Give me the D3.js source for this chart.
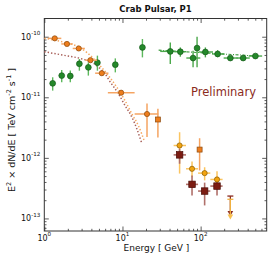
<!DOCTYPE html>
<html>
<head>
<meta charset="utf-8">
<script src="https://cdn.jsdelivr.net/npm/d3@7"></script>
<style>
  body {margin: 0; background: #fff;}
  text {font-family: "DejaVu Sans", sans-serif; fill: #111;}
</style>
</head>
<body>
<svg width="277" height="265"></svg>
<script>
// --- P1 low energy (orange circles)
var fermiE   = [1.36, 1.95, 2.76, 3.89, 5.44, 9.62, 20.6];
var fermiElo = [1.11, 1.65, 2.31, 3.35, 4.47, 6.5, 14.3];
var fermiEhi = [1.65, 2.31, 3.30, 4.74, 6.62, 14.3, 28.7];
var fermiF   = [9.4e-11, 7.6e-11, 6.4e-11, 4.1e-11, 2.5e-11, 1.19e-11, 5.3e-12];
var fermiFlo = [8.8e-11, 7.1e-11, 6.0e-11, 3.8e-11, 2.3e-11, 1.1e-11, 2.2e-12];
var fermiFhi = [1.0e-10, 8.1e-11, 6.8e-11, 4.4e-11, 2.7e-11, 1.28e-11, 7.9e-12];

// --- orange squares
var sqE   = [28.4, 97];
var sqF   = [4.3e-12, 1.37e-12];
var sqFlo = [2.17e-12, 6.2e-13];
var sqFhi = [6.5e-12, 2.11e-12];

// --- gold circles / dark red squares (same bins)
var hiE   = [53.8, 77.6, 112.5, 162];
var hiElo = [45.1, 65, 92.7, 133];
var hiEhi = [65, 92.7, 133, 191];
var goldF   = [1.6e-12, 6.6e-13, 5.6e-13, 4.4e-13];
var goldFlo = [5.5e-13, 4.8e-13, 4.25e-13, 3.3e-13];
var goldFhi = [2.65e-12, 8.7e-13, 7.0e-13, 6.0e-13];
var redF   = [1.12e-12, 3.65e-13, 2.83e-13, 3.42e-13];
var redFlo = [8.0e-13, 2.4e-13, 1.64e-13, 2.4e-13];
var redFhi = [1.41e-12, 5.1e-13, 3.9e-13, 4.25e-13];

// --- upper limits at 240 GeV
var ulE = 240;
var redUL  = [2.34e-13, 1.2e-13];
var goldUL = [2.07e-13, 1.05e-13];

// --- green, low energy (vertical errors only)
var grE   = [1.28, 1.67, 2.15, 2.81, 3.66, 4.78, 8.1, 18];
var grF   = [1.70e-11, 2.28e-11, 2.25e-11, 3.58e-11, 3.12e-11, 3.73e-11, 3.46e-11, 6.66e-11];
var grFlo = [1.29e-11, 1.77e-11, 1.77e-11, 2.75e-11, 2.28e-11, 2.75e-11, 2.58e-11, 4.56e-11];
var grFhi = [2.14e-11, 2.83e-11, 2.76e-11, 4.29e-11, 3.77e-11, 4.87e-11, 4.39e-11, 9.17e-11];

// --- green, high energy
var gr2E   = [40.9, 55, 80, 90, 115, 165, 240, 350, 502];
var gr2Elo = [30.4, 46, 65.6, 86, 94, 140, 197, 287, 412];
var gr2Ehi = [48.8, 65.6, 99, 94, 144, 201, 298, 425, 612];
var gr2F   = [5.73e-11, 5.66e-11, 4.45e-11, 6.5e-11, 5.6e-11, 5.19e-11, 4.45e-11, 4.45e-11, 4.8e-11];
var gr2Flo = [3.55e-11, 4.68e-11, 3.12e-11, 3.12e-11, 4.56e-11, 4.6e-11, 4.2e-11, 4.2e-11, 4.5e-11];
var gr2Fhi = [8.06e-11, 6.66e-11, 5.88e-11, 1.0e-10, 6.66e-11, 6.0e-11, 4.7e-11, 4.7e-11, 5.1e-11];

// --- fitted curves
var grFitE = [29, 530];
var grFitF = [6.0e-11, 4.8e-11];
var orFitE = [1, 1.59, 3.04, 4.09, 5.18, 6.62, 8.48, 10.8, 13.2, 16.0, 19.0];
var orFitF = [9.4e-11, 8.4e-11, 6.3e-11, 4.6e-11, 3.3e-11, 2.28e-11, 1.46e-11, 8.8e-12, 5.3e-12, 3.4e-12, 1.9e-12];
var rdFitE = [1, 1.69, 3.04, 4.09, 5.0, 6.0, 6.95, 8.9, 10.8, 13.2, 15.3, 17.5];
var rdFitF = [5.66e-11, 5.0e-11, 4.3e-11, 3.77e-11, 3.1e-11, 2.43e-11, 1.8e-11, 1.14e-11, 7.3e-12, 4.7e-12, 3.0e-12, 1.8e-12];

var xTicks = [1, 10, 100];
var xTickExp = ["0", "1", "2"];
var yTicks = [1e-10, 1e-11, 1e-12, 1e-13];
var yTickExp = ["-10", "-11", "-12", "-13"];

var svg = d3.select("svg");
var L = 44.3, R = 266.7, T = 18.5, B = 231;

var x = d3.scaleLog().domain([1, 700]).range([L, R]);
var y = d3.scaleLog().domain([6.2e-14, 2.0e-10]).range([B, T]);

function minors(lo, hi) {
	var out = [];
	for (var k = Math.floor(Math.log10(lo)); k <= Math.ceil(Math.log10(hi)); k++) {
		for (var m = 2; m <= 9; m++) {
			var v = m * Math.pow(10, k);
			if (v > lo && v < hi) out.push(v);
		}
	}
	return out;
}

// ticks, inside on all four sides
function tickAxis(axis, vals, size, tr) {
	var g = svg.append("g").attr("transform", tr)
		.call(axis.tickValues(vals).tickSize(-size).tickSizeOuter(0).tickFormat(""));
	g.select(".domain").remove();
	g.selectAll("line").attr("stroke", "#333").attr("stroke-width", 0.8);
}
tickAxis(d3.axisBottom(x), xTicks, 4.5, "translate(0," + B + ")");
tickAxis(d3.axisBottom(x), minors(1, 700), 2.2, "translate(0," + B + ")");
tickAxis(d3.axisTop(x), xTicks, 4.5, "translate(0," + T + ")");
tickAxis(d3.axisTop(x), minors(1, 700), 2.2, "translate(0," + T + ")");
tickAxis(d3.axisLeft(y), yTicks, 4.5, "translate(" + L + ",0)");
tickAxis(d3.axisLeft(y), minors(6.2e-14, 2e-10), 2.2, "translate(" + L + ",0)");
tickAxis(d3.axisRight(y), yTicks, 4.5, "translate(" + R + ",0)");
tickAxis(d3.axisRight(y), minors(6.2e-14, 2e-10), 2.2, "translate(" + R + ",0)");

svg.append("rect")
	.attr("x", L).attr("y", T).attr("width", R - L).attr("height", B - T)
	.attr("fill", "none").attr("stroke", "#333").attr("stroke-width", 1);

// tick labels with superscripts
xTicks.forEach(function (v, i) {
	var t = svg.append("text").attr("x", x(v)).attr("y", 240.5)
		.attr("text-anchor", "middle").style("font-size", "8px");
	t.append("tspan").text("10");
	t.append("tspan").attr("dy", -4.5).style("font-size", "5.6px").text(xTickExp[i]);
});
yTicks.forEach(function (v, i) {
	var t = svg.append("text").attr("x", L - 4).attr("y", y(v) + 3)
		.attr("text-anchor", "end").style("font-size", "8px");
	t.append("tspan").text("10");
	t.append("tspan").attr("dy", -4.5).style("font-size", "5.6px").text(yTickExp[i]);
});

svg.append("text").attr("x", 156.5).attr("y", 251)
	.attr("text-anchor", "middle").style("font-size", "9px").text("Energy [ GeV ]");

var yl = svg.append("text")
	.attr("transform", "translate(15,130) rotate(-90)")
	.attr("text-anchor", "middle").style("font-size", "9.5px");
yl.append("tspan").text("E");
yl.append("tspan").attr("dy", -3.6).style("font-size", "6.5px").text("2");
yl.append("tspan").attr("dy", 3.6).text(" \u00d7 dN/dE  [ TeV cm");
yl.append("tspan").attr("dy", -3.6).style("font-size", "6.5px").text("-2");
yl.append("tspan").attr("dy", 3.6).text("  s");
yl.append("tspan").attr("dy", -3.6).style("font-size", "6.5px").text("-1");
yl.append("tspan").attr("dy", 3.6).text(" ]");

svg.append("text").attr("x", (L + R) / 2).attr("y", 12)
	.attr("text-anchor", "middle").style("font-size", "8.5px").style("font-weight", "bold")
	.text("Crab Pulsar, P1");

svg.append("text").attr("x", 191).attr("y", 95.5)
	.style("font-size", "11.5px").style("fill", "#8b2b1c").text("Preliminary");

// fitted curves
var line = d3.line()
	.x(function (d) { return x(d[0]); })
	.y(function (d) { return y(d[1]); })
	.curve(d3.curveMonotoneX);

function curve(es, fs, color, dash, w) {
	svg.append("path")
		.datum(es.map(function (e, i) { return [e, fs[i]]; }))
		.attr("d", line)
		.attr("fill", "none").attr("stroke", color)
		.attr("stroke-width", w).attr("stroke-dasharray", dash);
}
curve(rdFitE, rdFitF, "#a8605a", "1.4,2", 1.5);
curve(orFitE, orFitF, "#f6a860", "1.4,2", 1.5);
curve(grFitE, grFitF, "#3c9a3c", "3,1.5,1,1.5", 1.1);

// error bars
function errors(E, Elo, Ehi, F, Flo, Fhi, color, w) {
	var g = svg.append("g").attr("stroke", color).attr("stroke-width", w);
	E.forEach(function (e, i) {
		if (Elo) {
			g.append("line").attr("x1", x(Elo[i])).attr("x2", x(Ehi[i]))
				.attr("y1", y(F[i])).attr("y2", y(F[i]));
		}
		g.append("line").attr("x1", x(e)).attr("x2", x(e))
			.attr("y1", y(Flo[i])).attr("y2", y(Fhi[i]));
	});
}
function circles(E, F, fill, edge, r) {
	svg.append("g").selectAll("circle").data(E).enter().append("circle")
		.attr("cx", function (d) { return x(d); })
		.attr("cy", function (d, i) { return y(F[i]); })
		.attr("r", r).attr("fill", fill).attr("stroke", edge).attr("stroke-width", 0.7);
}
function squares(E, F, fill, edge, s) {
	svg.append("g").selectAll("rect").data(E).enter().append("rect")
		.attr("x", function (d) { return x(d) - s / 2; })
		.attr("y", function (d, i) { return y(F[i]) - s / 2; })
		.attr("width", s).attr("height", s)
		.attr("fill", fill).attr("stroke", edge).attr("stroke-width", 0.7);
}

errors(grE, null, null, grF, grFlo, grFhi, "#5cb85c", 1.4);
circles(grE, grF, "#24882a", "#145a18", 2.9);
errors(gr2E, gr2Elo, gr2Ehi, gr2F, gr2Flo, gr2Fhi, "#4aa84a", 1.4);
circles(gr2E, gr2F, "#24882a", "#145a18", 2.9);

errors(fermiE, fermiElo, fermiEhi, fermiF, fermiFlo, fermiFhi, "#f5a462", 1.5);
circles(fermiE, fermiF, "#ee7d1c", "#8a4a10", 2.6);
errors(sqE, null, null, sqF, sqFlo, sqFhi, "#f5a462", 1.5);
squares(sqE, sqF, "#ee7d1c", "#8a4a10", 5);

errors(hiE, hiElo, hiEhi, goldF, goldFlo, goldFhi, "#fbc560", 1.5);
errors(hiE, hiElo, hiEhi, redF, redFlo, redFhi, "#b0706a", 1.6);
squares(hiE, redF, "#7c1c12", "#4a0e08", 6.5);
circles(hiE, goldF, "#f2a410", "#8a5a00", 2.6);

// upper limits
function upperLimit(vals, color, headColor) {
	svg.append("line").attr("x1", x(ulE)).attr("x2", x(ulE))
		.attr("y1", y(vals[0])).attr("y2", y(vals[1]))
		.attr("stroke", color).attr("stroke-width", 1.3);
	svg.append("line").attr("x1", x(ulE) - 3).attr("x2", x(ulE) + 3)
		.attr("y1", y(vals[0])).attr("y2", y(vals[0]))
		.attr("stroke", color).attr("stroke-width", 1.3);
	svg.append("path")
		.attr("d", d3.symbol(d3.symbolTriangle, 14)())
		.attr("transform", "translate(" + x(ulE) + "," + (y(vals[1]) - 1) + ") rotate(180)")
		.attr("fill", headColor);
}
upperLimit(redUL, "#8a2a20", "#8a2a20");
upperLimit(goldUL, "#f0b040", "#f8c050");
</script>
</body>
</html>
